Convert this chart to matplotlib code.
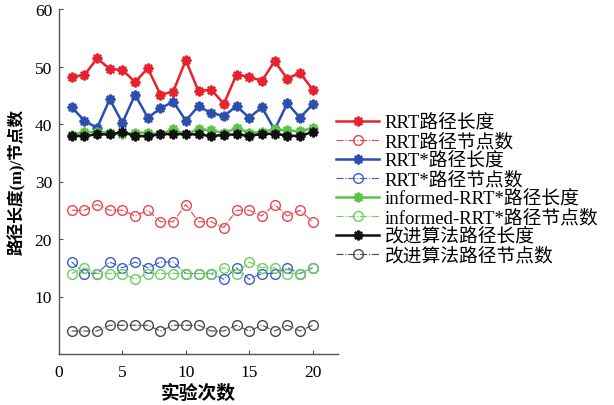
import numpy as np
import matplotlib
matplotlib.use('Agg')
import matplotlib.pyplot as plt

plt.rcParams['font.family'] = ['Liberation Serif', 'Noto Sans CJK SC']
plt.rcParams['axes.unicode_minus'] = False

runs = np.arange(1, 21)

# path length (m)
rrt_len = [48.2, 48.5, 51.4, 49.6, 49.4, 47.3, 49.7, 45.1, 45.6, 51.1,
           45.7, 46.0, 43.5, 48.6, 48.2, 47.5, 50.9, 47.9, 48.9, 46.0]
rrts_len = [42.9, 40.6, 39.3, 44.3, 40.2, 45.1, 41.1, 42.7, 43.9, 40.6,
            43.1, 41.9, 41.4, 43.1, 41.1, 42.9, 39.0, 43.6, 41.1, 43.4]
inf_len = [38.1, 38.6, 38.6, 38.5, 38.2, 38.5, 38.5, 38.2, 39.1, 38.2,
           39.1, 38.9, 38.4, 39.3, 38.5, 38.6, 39.1, 38.9, 38.7, 39.3]
ours_len = [38.0, 37.9, 38.2, 38.2, 38.6, 37.9, 37.9, 38.2, 38.3, 38.2,
            38.2, 37.9, 38.1, 38.2, 37.9, 38.3, 38.3, 38.0, 37.9, 38.6]

# number of path nodes
rrt_nodes = [25, 25, 26, 25, 25, 24, 25, 23, 23, 26,
             23, 23, 22, 25, 25, 24, 26, 24, 25, 23]
rrts_nodes = [16, 14, 14, 16, 15, 16, 15, 16, 16, 14,
              14, 14, 13, 15, 13, 14, 14, 15, 14, 15]
inf_nodes = [14, 15, 14, 14, 14, 13, 14, 14, 14, 14,
             14, 14, 15, 14, 16, 15, 15, 14, 14, 15]
ours_nodes = [4, 4, 4, 5, 5, 5, 5, 4, 5, 5,
              5, 4, 4, 5, 4, 5, 4, 5, 4, 5]

labels = ['RRT路径长度', 'RRT路径节点数', 'RRT*路径长度', 'RRT*路径节点数',
          'informed-RRT*路径长度', 'informed-RRT*路径节点数',
          '改进算法路径长度', '改进算法路径节点数']

colors = ['#e8222c', '#2a4fae', '#5cc24a', '#111111']
node_colors = ['#e8474f', '#3c5cc8', '#6ccf5a', '#4a4a4a']
lengths = [rrt_len, rrts_len, inf_len, ours_len]
nodes = [rrt_nodes, rrts_nodes, inf_nodes, ours_nodes]

fig = plt.figure(figsize=(6.14, 4.06), dpi=100)
ax = fig.add_axes([59/614, 51/406, 279/614, 345/406])

star = (8, 2, 0)
for i in range(4):
    ax.plot(runs, lengths[i], '-', color=colors[i], lw=1.8, marker=star,
            ms=7, mew=1.7, mec=colors[i], label=labels[2*i])
    ax.plot(runs, nodes[i], '-.', color=node_colors[i], lw=0.8, marker='o',
            ms=7, mfc='none', mec=node_colors[i], mew=1.0, label=labels[2*i+1])

ax.set_xlim(0, 22)
ax.set_ylim(0, 60)
ax.set_xticks([0, 5, 10, 15, 20])
ax.set_yticks([10, 20, 30, 40, 50, 60])
for s in ['top', 'right']:
    ax.spines[s].set_visible(False)
for s in ['left', 'bottom']:
    ax.spines[s].set_color('#555555')
    ax.spines[s].set_linewidth(1.0)
ax.tick_params(direction='in', length=3, width=0.8, color='#555555',
               labelsize=12.5, pad=5)
ax.tick_params(axis='x', pad=7)

ax.set_xlabel('实验次数', fontsize=13.5, fontweight='bold', labelpad=3)
ax.set_ylabel('路径长度(m)/节点数', fontsize=12, fontweight='bold', labelpad=6)

ax.legend(loc='upper left', bbox_to_anchor=(323/614, 1 - 102/406),
          bbox_transform=fig.transFigure, frameon=False, fontsize=13.5,
          handlelength=2.3, handletextpad=0.3, labelspacing=0.08,
          borderpad=0.2)

fig.savefig('out.png', dpi=100)
